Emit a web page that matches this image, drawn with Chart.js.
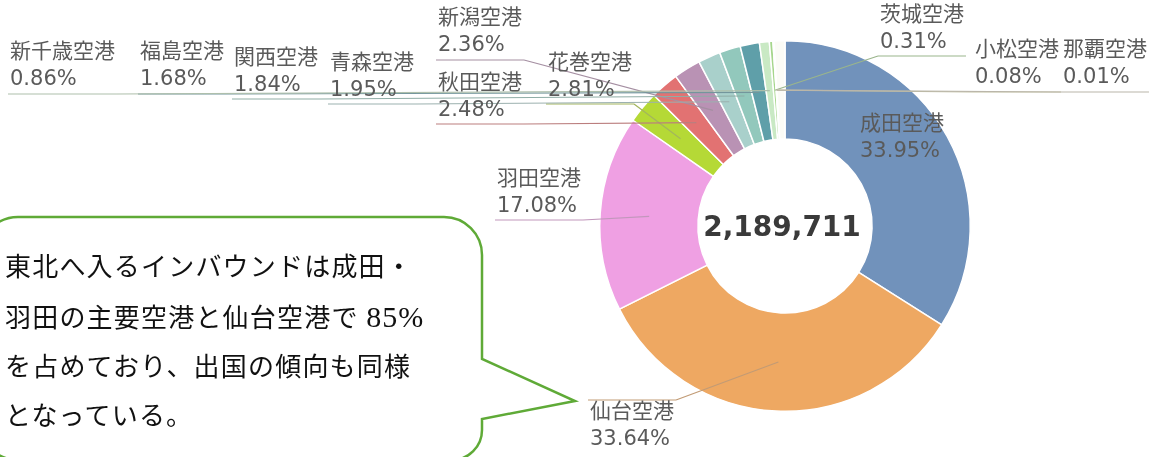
<!DOCTYPE html>
<html lang="ja">
<head>
<meta charset="utf-8">
<script src="https://cdn.jsdelivr.net/npm/chart.js@4.4.1/dist/chart.umd.min.js"></script>
<style>
  html, body { margin: 0; padding: 0; background: #fff; }
  #wrap { position: relative; width: 1157px; height: 457px; overflow: hidden; }
  #chart { position: absolute; left: 0; top: 0; }
  #bubble { position: absolute; left: 0; top: 0; }
  #note {
    position: absolute; left: 5px; top: 243px;
    font-family: "Liberation Serif", "Noto Sans CJK JP", serif;
    font-size: 26px; line-height: 49px; letter-spacing: 1.2px; color: #111;
  }
  #note .num { font-size: 30px; letter-spacing: 1px; }
</style>
</head>
<body>
<div id="wrap">
  <canvas id="chart" width="1157" height="457"></canvas>
  <svg id="bubble" width="1157" height="457">
    <path d="M 18 217 H 444 A 38 38 0 0 1 482 255 V 359 L 575 401 L 482 419 V 430 A 30 30 0 0 1 452 460 H 18 A 38 38 0 0 1 -20 422 V 255 A 38 38 0 0 1 18 217 Z"
          fill="none" stroke="#5faa37" stroke-width="2.5" stroke-linejoin="miter"/>
  </svg>
  <div id="note">東北へ入るインバウンドは成田・<br>羽田の主要空港と仙台空港で <span class="num">85%</span><br>を占めており、出国の傾向も同様<br>となっている。</div>
</div>
<script>
// データ(割合 %)
const categories = ['成田空港', '仙台空港', '羽田空港', '花巻空港', '秋田空港', '新潟空港', '青森空港',
  '関西空港', '福島空港', '新千歳空港', '茨城空港', '小松空港', '那覇空港', 'その他'];
const shares = [33.95, 33.64, 17.08, 2.81, 2.48, 2.36, 1.95, 1.84, 1.68, 0.86, 0.31, 0.08, 0.01, 0.95];
const totalPassengers = 2189711;

const sliceColors = ['#7192bb', '#eea862', '#efa0e3', '#b5d936', '#e27272', '#b992b4', '#a9d0cb',
  '#92c8bc', '#5f9fa9', '#c9e9c4', '#a6d68c', '#ece9b4', '#e0d8c0', '#fbfbf6'];

// ラベル位置 (x, 1行目の中心y, 引き出し線のy)
const labelPlaces = [
  { x: 860, y: 125 },
  { x: 590, y: 413, lineY: 400 },
  { x: 497, y: 180, lineY: 220 },
  { x: 548, y: 64, lineY: 104 },
  { x: 438, y: 84, lineY: 124 },
  { x: 438, y: 19, lineY: 60 },
  { x: 330, y: 64, lineY: 104 },
  { x: 234, y: 59, lineY: 99 },
  { x: 140, y: 53, lineY: 94 },
  { x: 10, y: 53, lineY: 94 },
  { x: 880, y: 16, lineY: 56 },
  { x: 975, y: 51, lineY: 92 },
  { x: 1063, y: 51, lineY: 92 },
  null
];

function leaderColor(hex) {
  const n = parseInt(hex.slice(1), 16);
  const r = (n >> 16) & 255, g = (n >> 8) & 255, b = n & 255;
  const mix = (v) => Math.round(v * 0.55 + 140 * 0.45);
  return `rgb(${mix(r)},${mix(g)},${mix(b)})`;
}

const labelFont = '21px "DejaVu Sans", "Noto Sans CJK JP", sans-serif';

const leaderLabels = {
  id: 'leaderLabels',
  afterDatasetsDraw(chart) {
    const ctx = chart.ctx;
    const arcs = chart.getDatasetMeta(0).data;
    ctx.save();
    ctx.font = labelFont;
    ctx.textBaseline = 'middle';
    ctx.textAlign = 'left';
    arcs.forEach((arc, i) => {
      const p = labelPlaces[i];
      if (!p || p.lineY === undefined) return;
      const pct = shares[i].toFixed(2) + '%';
      const w = Math.max(ctx.measureText(categories[i]).width, ctx.measureText(pct).width);
      const c = arc.getCenterPoint();
      const x0 = p.x - 2, x1 = p.x + w + 2;
      const ex = c.x < x0 ? x0 : x1;
      ctx.strokeStyle = leaderColor(sliceColors[i]);
      ctx.lineWidth = 1.2;
      ctx.beginPath();
      ctx.moveTo(x0, p.lineY);
      ctx.lineTo(x1, p.lineY);
      ctx.moveTo(ex, p.lineY);
      ctx.lineTo(c.x, c.y);
      ctx.stroke();
    });
    arcs.forEach((arc, i) => {
      const p = labelPlaces[i];
      if (!p) return;
      ctx.fillStyle = '#5a5a5a';
      ctx.fillText(categories[i], p.x, p.y);
      ctx.fillText(shares[i].toFixed(2) + '%', p.x, p.y + 27);
    });
    // 中央の合計
    const a = arcs[0];
    ctx.font = 'bold 28px "DejaVu Sans", sans-serif';
    ctx.textAlign = 'center';
    ctx.fillStyle = '#3a3a3a';
    ctx.fillText(totalPassengers.toLocaleString('en-US'), a.x - 3, a.y + 3);
    ctx.restore();
  }
};

new Chart(document.getElementById('chart'), {
  type: 'doughnut',
  data: {
    labels: categories,
    datasets: [{
      data: shares,
      backgroundColor: sliceColors,
      borderColor: '#ffffff',
      borderWidth: 1.5
    }]
  },
  options: {
    responsive: false,
    animation: false,
    cutout: '47%',
    layout: { padding: { left: 599, right: 186, top: 40, bottom: 45 } },
    plugins: {
      legend: { display: false },
      tooltip: { enabled: false }
    }
  },
  plugins: [leaderLabels]
});
</script>
</body>
</html>
